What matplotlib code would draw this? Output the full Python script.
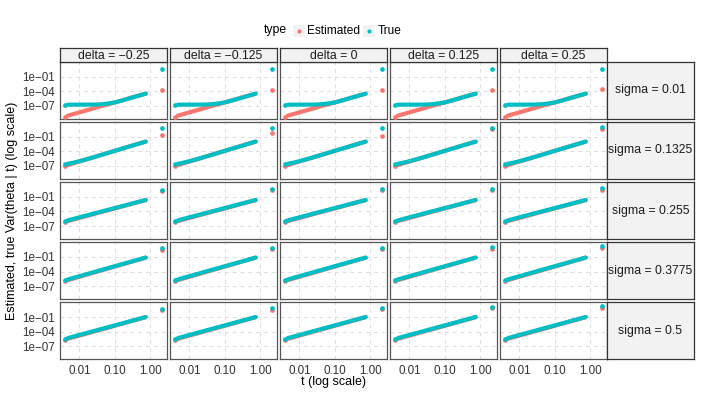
import numpy as np
import matplotlib
matplotlib.use("Agg")
from matplotlib import pyplot as plt

plt.rcParams['font.family'] = ['Liberation Sans', 'DejaVu Sans']

deltas = ["−0.25", "−0.125", "0", "0.125", "0.25"]
sigmas = ["0.01", "0.1325", "0.255", "0.3775", "0.5"]

# t values (first one is the lone point at the left)
t_first = 0.0038
t_line = [0.0047, 0.007, 0.01, 0.02, 0.03, 0.05, 0.1, 0.2, 0.3, 0.5, 0.75]
t_out = 2.14

# log10 of the variance, one list per sigma row (same in every delta column)
est_first = [-9.2, -7.0, -6.15, -5.95, -5.65]
true_first = [-6.78, -6.65, -6.0, -5.8, -5.5]
est_log = [
    [-9.0, -8.65, -8.33, -7.71, -7.34, -6.88, -6.3, -5.68, -5.3, -4.85, -4.5],
    [-6.8, -6.42, -6.08, -5.43, -5.04, -4.56, -3.9, -3.25, -2.86, -2.38, -2.0],
    [-5.97, -5.63, -5.33, -4.74, -4.39, -3.96, -3.38, -2.8, -2.45, -2.02, -1.68],
    [-5.76, -5.4, -5.07, -4.44, -4.07, -3.61, -2.98, -2.36, -1.98, -1.52, -1.15],
    [-5.47, -5.12, -4.81, -4.21, -3.84, -3.4, -2.8, -2.19, -1.83, -1.39, -1.03],
]
true_log = [
    [-6.76, -6.75, -6.75, -6.74, -6.72, -6.62, -6.3, -5.7, -5.32, -4.86, -4.5],
    [-6.55, -6.3, -6.02, -5.42, -5.04, -4.56, -3.9, -3.25, -2.86, -2.38, -2.0],
    [-5.83, -5.5, -5.2, -4.64, -4.29, -3.88, -3.31, -2.74, -2.4, -1.98, -1.65],
    [-5.62, -5.26, -4.95, -4.34, -3.97, -3.52, -2.91, -2.3, -1.94, -1.49, -1.13],
    [-5.32, -4.98, -4.68, -4.09, -3.74, -3.31, -2.72, -2.13, -1.78, -1.35, -1.0],
]
# the lone point at t ~ 2 in each panel (rows = sigma, cols = delta)
out_est = [
    [-3.7, -3.7, -3.7, -3.7, -3.6],
    [-0.67, -0.3, -0.88, 0.6, 0.55],
    [0.2, 0.35, 0.4, 0.45, 0.5],
    [0.48, 0.55, 0.6, 0.7, 0.88],
    [0.43, 0.5, 0.6, 0.8, 0.9],
]
out_true = [
    [0.57, 0.57, 0.57, 0.57, 0.6],
    [0.69, 0.69, 0.69, 0.85, 0.9],
    [0.5, 0.6, 0.65, 0.7, 0.82],
    [0.8, 0.85, 0.9, 1.0, 1.2],
    [0.7, 0.8, 0.9, 1.1, 1.35],
]

red = "#F8766D"
teal = "#00BFC4"
W, H = 706, 394

def fbox(x, y, w, h):
    return [x / W, 1 - (y + h) / H, w / W, h / H]

fig = plt.figure(figsize=(W / 100, H / 100), dpi=100)

pw, ph = 106.7, 56.8
gap = 3.3
left0, top0 = 60, 62

for r in range(5):
    for c in range(5):
        x0 = left0 + c * (pw + gap)
        y0 = top0 + r * (ph + gap)
        ax = fig.add_axes(fbox(x0, y0, pw, ph))
        ax.set_xscale("log")
        ax.set_yscale("log")
        ax.set_xlim(10 ** -2.55, 10 ** 0.47)
        ax.set_ylim(10 ** -9.65, 10 ** 2.0)
        ax.set_facecolor("white")

        for vals, first, out, col in [(est_log[r], est_first[r], out_est[r][c], red),
                                      (true_log[r], true_first[r], out_true[r][c], teal)]:
            ax.plot(t_line, 10 ** np.array(vals), color=col, lw=3.0,
                    solid_capstyle="round", zorder=3)
            ax.plot([t_first, t_out], [10 ** first, 10 ** out], "o", color=col,
                    ms=3.4, mew=0, zorder=3)

        ax.set_xticks([0.01, 0.1, 1])
        ax.set_yticks([1e-7, 1e-4, 1e-1])
        ax.minorticks_off()
        ax.grid(True, color="#DCDCDC", lw=0.7, linestyle=(0, (4, 4)))
        ax.set_axisbelow(True)
        ax.tick_params(length=0, pad=4.0, labelsize=8.4, colors="#333333")
        if c == 0:
            ax.set_yticklabels(["1e−07", "1e−04", "1e−01"])
        else:
            ax.set_yticklabels([])
        if r == 4:
            ax.set_xticklabels(["0.01", "0.10", "1.00"])
        else:
            ax.set_xticklabels([])
        for s in ax.spines.values():
            s.set_color("#555555")
            s.set_linewidth(0.9)

        if r == 0:
            sax = fig.add_axes(fbox(x0, 48, pw, 14))
            sax.set_facecolor("#F2F2F2")
            sax.set_xticks([])
            sax.set_yticks([])
            for s in sax.spines.values():
                s.set_color("#333333")
                s.set_linewidth(0.9)
            sax.text(0.5, 0.45, "delta = " + deltas[c], ha="center", va="center",
                     fontsize=8.8, color="#1A1A1A", transform=sax.transAxes)

    y0 = top0 + r * (ph + gap)
    rx = left0 + 5 * pw + 4 * gap
    sax = fig.add_axes(fbox(rx, y0, 694.3 - rx, ph))
    sax.set_facecolor("#F2F2F2")
    sax.set_xticks([])
    sax.set_yticks([])
    for s in sax.spines.values():
        s.set_color("#333333")
        s.set_linewidth(0.9)
    sax.text(0.5, 0.5, "sigma = " + sigmas[r], ha="center", va="center",
             fontsize=8.8, color="#1A1A1A", transform=sax.transAxes)

# axis titles
fig.text(12 / W, 1 - 210.6 / H, "Estimated, true Var(theta | t) (log scale)",
         rotation=90, ha="center", va="center", fontsize=9)
fig.text(333.3 / W, 1 - 376.5 / H, "t (log scale)", ha="center", va="top", fontsize=9)

# legend on top
fig.text(264 / W, 1 - 30.5 / H, "type", ha="left", va="center", fontsize=8.8)
for kx, tx, label, col in [(293, 307, "Estimated", red), (363, 378, "True", teal)]:
    kax = fig.add_axes(fbox(kx, 25, 12, 11.5))
    kax.set_facecolor("#F2F2F2")
    kax.set_xticks([])
    kax.set_yticks([])
    for s in kax.spines.values():
        s.set_visible(False)
    kax.set_xlim(0, 1)
    kax.set_ylim(0, 1)
    kax.plot([0.5], [0.5], "o", color=col, ms=3.0, mew=0)
    fig.text(tx / W, 1 - 30.5 / H, label, ha="left", va="center", fontsize=8.6)

fig.savefig("out.png", dpi=100)
